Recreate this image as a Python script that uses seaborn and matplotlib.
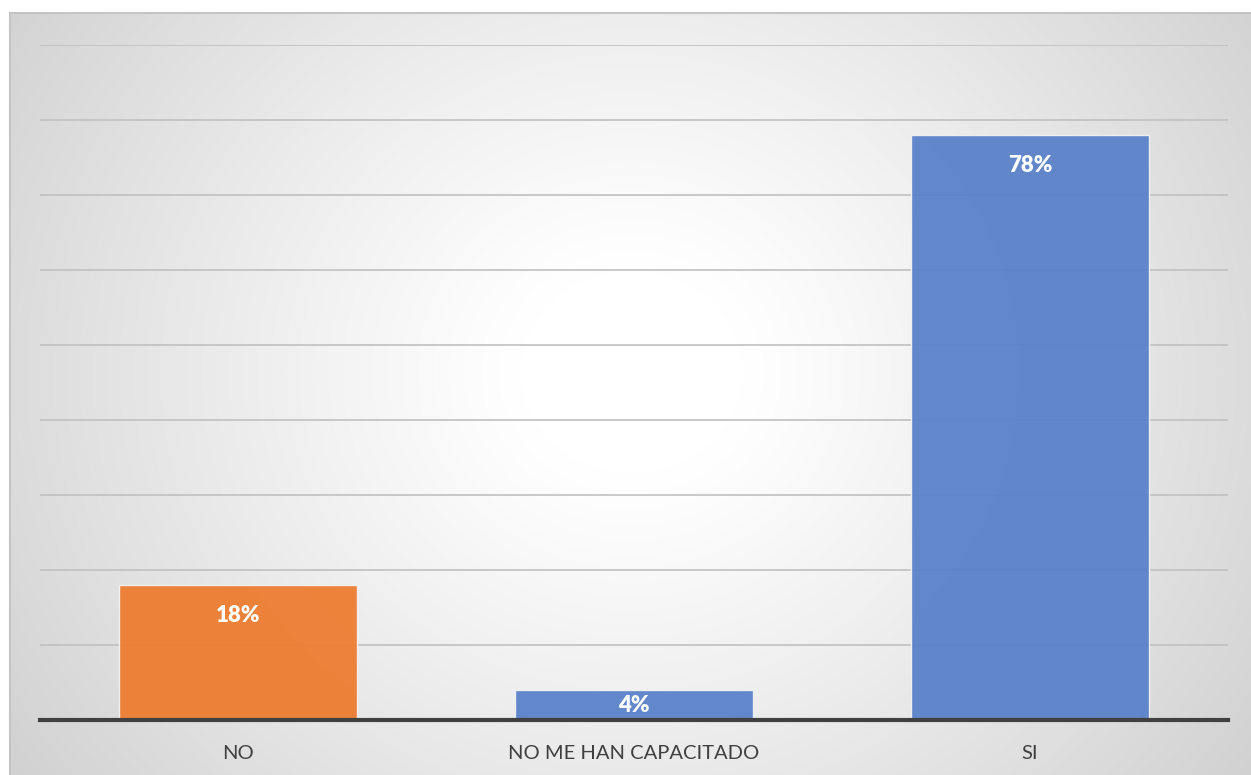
import numpy as np
import pandas as pd
import matplotlib
matplotlib.use("Agg")
import matplotlib.pyplot as plt
import seaborn as sns

categories = ["NO", "NO ME HAN CAPACITADO", "SI"]
values = [18, 4, 78]
bar_colors = ["#ED7D31", "#5A82C9", "#5A82C9"]

sns.set_theme(style="white")
plt.rcParams["font.family"] = ["Lato", "DejaVu Sans"]

W, H = 1251, 775
fig = plt.figure(figsize=(W / 100, H / 100), dpi=100)
fig.patch.set_facecolor("white")

# Radial gradient panel behind the chart
bg = fig.add_axes([10 / W, 0, (W - 10) / W, (H - 13) / H])
ny, nx = 400, 650
yy, xx = np.mgrid[0:ny, 0:nx]
cx, cy = nx * 0.5, ny * 0.47
r = np.sqrt(((xx - cx) / (nx * 0.6)) ** 2 + ((yy - cy) / (ny * 0.9)) ** 2)
r = np.clip(r, 0, 1.2)
shade = np.clip(1.0 - 0.21 * np.clip(r - 0.15, 0, None) ** 1.1, 0.76, 1)
img = np.dstack([shade, shade, shade])
bg.imshow(img, aspect="auto", extent=[0, 1, 0, 1], origin="upper")
bg.set_xlim(0, 1)
bg.set_ylim(0, 1)
bg.set_xticks([])
bg.set_yticks([])
for s in ["right", "bottom"]:
    bg.spines[s].set_visible(False)
for s in ["top", "left"]:
    bg.spines[s].set_color("#c4c4c4")
    bg.spines[s].set_linewidth(1.5)

base_y, top_y = 720, 45
ax = fig.add_axes([40 / W, (H - base_y) / H, (1228 - 40) / W, (base_y - top_y) / H])
ax.patch.set_alpha(0)

df = pd.DataFrame({"categoria": categories, "valor": values})
sns.barplot(data=df, x="categoria", y="valor", hue="categoria",
            palette=bar_colors, saturation=1, width=0.6, ax=ax, legend=False,
            edgecolor="#f2f2f2", linewidth=1, alpha=0.95, zorder=3)

ax.set_ylim(0, 90)
ax.set_xlim(-0.5, 2.5)
ax.set_yticks(np.arange(0, 91, 10))
ax.yaxis.grid(True, color="#c0c0c0", linewidth=1.2, zorder=0)
ax.set_axisbelow(True)
ax.tick_params(axis="y", left=False, labelleft=False)
ax.tick_params(axis="x", bottom=False, pad=12, labelsize=14.5, labelcolor="#404040")
ax.set_xlabel("")
ax.set_ylabel("")
for s in ["top", "right", "left"]:
    ax.spines[s].set_visible(False)
ax.spines["bottom"].set_color("#404040")
ax.spines["bottom"].set_linewidth(3)
ax.spines["bottom"].set_zorder(5)

# Value labels sit just inside the top of each bar (centred in short bars)
units_per_px = 90 / (base_y - top_y)
inset = 30 * units_per_px
for i, v in enumerate(values):
    y = v - min(inset, v / 2)
    ax.text(i, y, f"{v}%", ha="center", va="center", color="white",
            fontsize=16, fontweight="heavy", zorder=6)

fig.savefig("out.png", dpi=100, facecolor=fig.get_facecolor())
